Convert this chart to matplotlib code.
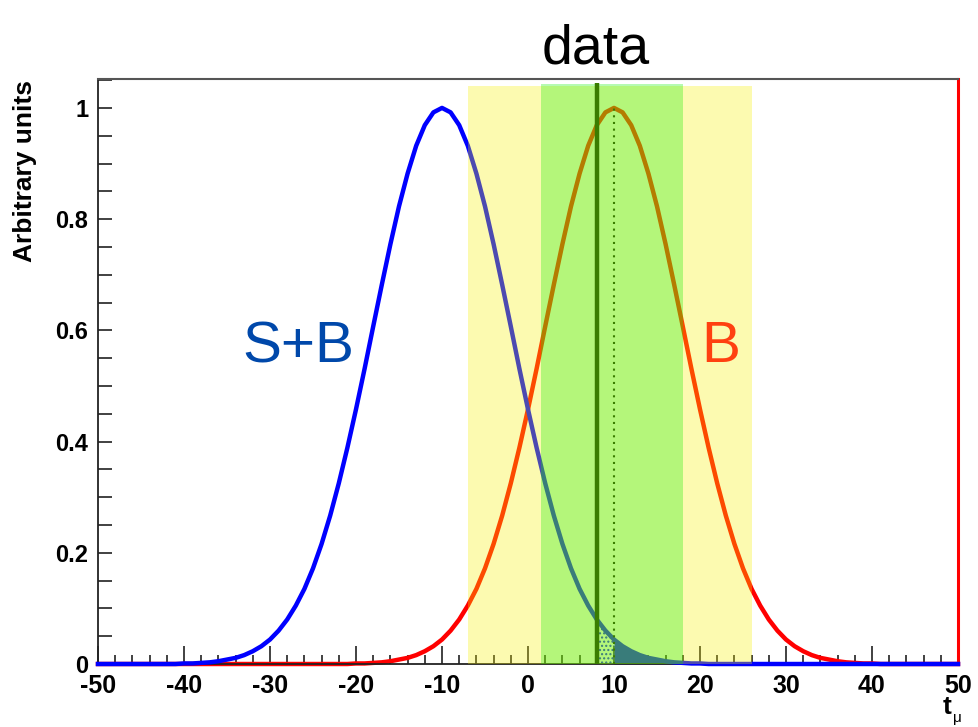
import numpy as np
import matplotlib
matplotlib.use('Agg')
import matplotlib.pyplot as plt
from matplotlib.ticker import MultipleLocator

# Test statistic grid (t_mu, -50..50 in steps of 1) and the two
# normalised distributions
t_mu = list(range(-50, 51))
s_plus_b = [0, 0, 0, 0, 0, 0, 0, 0, 0, 0,
            0.001, 0.001, 0.002, 0.003, 0.005, 0.008, 0.011, 0.016, 0.023,
            0.032, 0.044, 0.060, 0.080, 0.105, 0.135, 0.172, 0.216, 0.267,
            0.325, 0.389, 0.458, 0.531, 0.607, 0.682, 0.755, 0.823, 0.882,
            0.932, 0.969, 0.992, 1.0, 0.992, 0.969, 0.932, 0.882, 0.823,
            0.755, 0.682, 0.607, 0.531, 0.458, 0.389, 0.325, 0.267, 0.216,
            0.172, 0.135, 0.105, 0.080, 0.060, 0.044, 0.032, 0.023, 0.016,
            0.011, 0.008, 0.005, 0.003, 0.002, 0.001, 0.001,
            0, 0, 0, 0, 0, 0, 0, 0, 0, 0, 0, 0, 0, 0, 0,
            0, 0, 0, 0, 0, 0, 0, 0, 0, 0, 0, 0, 0, 0, 0]
b_only = s_plus_b[::-1]

t_obs = 8.0                 # observed value ("data")
b_median = 10.0             # median of B-only distribution
band_2sigma = (-7.0, 26.0)  # yellow band
band_1sigma = (1.5, 18.0)   # green band

plt.rcParams['font.family'] = ['Liberation Sans', 'DejaVu Sans']
plt.rcParams['axes.unicode_minus'] = False

x = np.array(t_mu)
sb = np.array(s_plus_b)
b = np.array(b_only)

fig = plt.figure(figsize=(9.79, 7.27), dpi=100)
ax = fig.add_axes([98/979, 1-664/727, (958-98)/979, (664-79)/727])

# Curves (drawn beneath the translucent bands)
ax.plot(x, b, color='#ff0000', lw=3.2, zorder=2, clip_on=False)
ax.plot(x, sb, color='#0000ff', lw=3.2, zorder=3, clip_on=False)

# Tail of S+B beyond the observed value
m_hatch = (x >= t_obs) & (x <= b_median)
m_solid = (x >= b_median) & (x <= 20)
ax.fill_between(x[m_hatch], 0, sb[m_hatch], facecolor='none',
                edgecolor='#0000ff', hatch='....', lw=0, zorder=2)
ax.fill_between(x[m_solid], 0, sb[m_solid], color='#0000ff', lw=0, zorder=2)

# Expected bands
ax.fill_between(band_2sigma, 0, 1.04, color='#f8f000', alpha=0.31, lw=0, zorder=4)
ax.fill_between(band_1sigma, 0, 1.043, color='#10f000', alpha=0.30, lw=0, zorder=5)

# Observed value and B median
ax.vlines(t_obs, 0, 1.045, color='#3a7d00', lw=3.2, zorder=6)
ax.vlines(b_median, 0, max(b_only), color='#3a7d00', lw=1.5,
          linestyles=(0, (1, 2.2)), zorder=6)

ax.set_xlim(-50, 50)
ax.set_ylim(0, 1.052)

ax.xaxis.set_major_locator(MultipleLocator(10))
ax.xaxis.set_minor_locator(MultipleLocator(2))
ax.yaxis.set_minor_locator(MultipleLocator(0.05))
ax.set_yticks([0, 0.2, 0.4, 0.6, 0.8, 1.0])
ax.set_yticklabels(['0', '0.2', '0.4', '0.6', '0.8', '1'])

ax.tick_params(axis='x', which='major', direction='in', length=13, width=1.3,
               color='#333333', labelsize=18, pad=7)
ax.tick_params(axis='x', which='minor', direction='in', length=6.5, width=1.3,
               color='#333333')
ax.tick_params(axis='y', which='both', direction='in', length=10, width=1.3,
               color='#333333', labelsize=17, pad=7)
for lab in ax.get_xticklabels() + ax.get_yticklabels():
    lab.set_fontweight('bold')

ax.spines['left'].set_color('#222222')
ax.spines['left'].set_linewidth(1.3)
ax.spines['bottom'].set_color('#222222')
ax.spines['bottom'].set_linewidth(1.3)
ax.spines['top'].set_color('#555555')
ax.spines['top'].set_linewidth(1.5)
ax.spines['right'].set_color('#ff0000')
ax.spines['right'].set_linewidth(2.2)

# Labels
fig.text(25/979, 1-80/727, 'Arbitrary units', rotation=90, ha='center',
         va='top', fontsize=19, fontweight='bold')
fig.text(947/979, 1-714/727, 't', ha='center', va='baseline',
         fontsize=19, fontweight='bold')
fig.text(957/979, 1-722/727, 'μ', ha='center', va='baseline', fontsize=11)
fig.text(596/979, 1-63/727, 'data', ha='center', va='baseline', fontsize=40)
ax.text(-26.7, 0.543, 'S+B', ha='center', va='baseline', fontsize=42,
        color='#0048aa', zorder=8)
ax.text(22.4, 0.543, 'B', ha='center', va='baseline', fontsize=42,
        color='#ff4010', zorder=8)

fig.savefig('out.png', dpi=100)
